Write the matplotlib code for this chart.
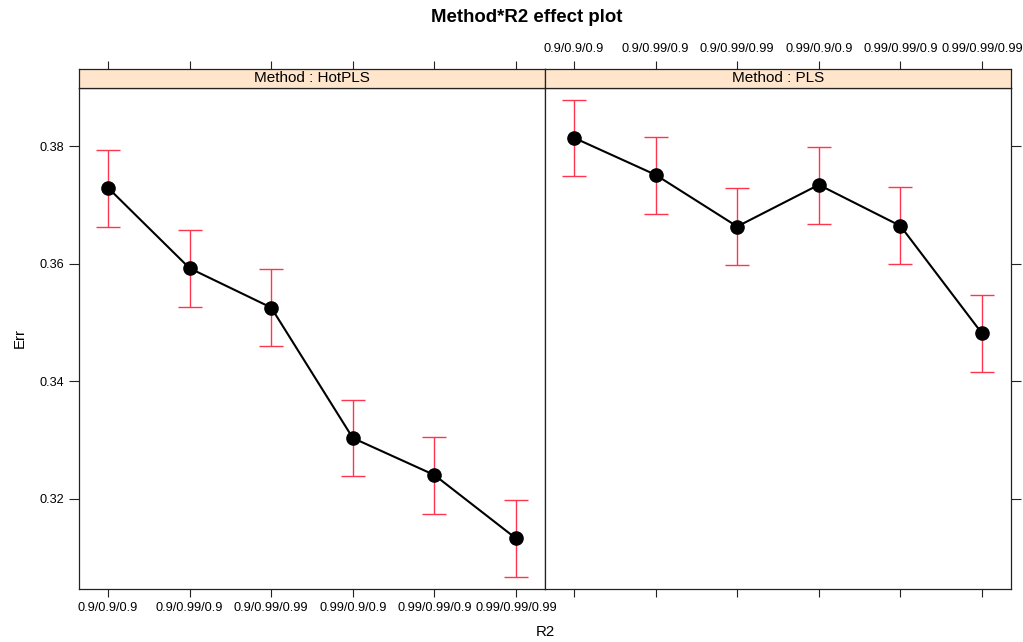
import matplotlib
matplotlib.use("Agg")
import matplotlib.pyplot as plt
import numpy as np

plt.rcParams['font.family'] = ['Liberation Sans', 'DejaVu Sans']

# Effect estimates of Err by R2 level, per method, with confidence limits
r2_levels = ["0.9/0.9/0.9", "0.9/0.99/0.9", "0.9/0.99/0.99",
             "0.99/0.9/0.9", "0.99/0.99/0.9", "0.99/0.99/0.99"]
methods = ["HotPLS", "PLS"]

hotpls_fit = [0.3729, 0.3592, 0.3525, 0.3303, 0.3240, 0.3132]
hotpls_lower = [0.3663, 0.3526, 0.3460, 0.3238, 0.3174, 0.3066]
hotpls_upper = [0.3794, 0.3657, 0.3590, 0.3368, 0.3305, 0.3197]

pls_fit = [0.3814, 0.3751, 0.3663, 0.3734, 0.3664, 0.3481]
pls_lower = [0.3749, 0.3685, 0.3597, 0.3668, 0.3599, 0.3415]
pls_upper = [0.3879, 0.3816, 0.3728, 0.3799, 0.3730, 0.3546]

y_ticks = [0.32, 0.34, 0.36, 0.38]

W, H = 1023, 642
fig = plt.figure(figsize=(W / 100, H / 100), dpi=100)

def px_box(x0, y0, x1, y1):
    # convert a pixel box (top-left origin) into figure fractions
    return [x0 / W, 1 - y1 / H, (x1 - x0) / W, (y1 - y0) / H]

x = np.arange(1, len(r2_levels) + 1)
xlim = (0.645, 6.355)
ylim = (0.3046, 0.38996)
frame_col = "#222222"
err_col = "#ff3550"
strip_col = "#ffe5cc"
tick_fs = 9.2

panels = [
    (methods[0], hotpls_fit, hotpls_lower, hotpls_upper, 79, 545),
    (methods[1], pls_fit, pls_lower, pls_upper, 545, 1011),
]

for i, (name, fit, lo, hi, x0, x1) in enumerate(panels):
    ax = fig.add_axes(px_box(x0, 87.5, x1, 589))
    fit = np.array(fit)
    lo = np.array(lo)
    hi = np.array(hi)
    ax.errorbar(x, fit, yerr=[fit - lo, hi - fit], fmt="none",
                ecolor=err_col, elinewidth=1.0, capsize=8.6, capthick=1.0,
                zorder=2)
    ax.plot(x, fit, color="black", lw=1.5, marker="o", markersize=9.5,
            markerfacecolor="black", markeredgecolor="black", zorder=3)
    ax.set_xlim(*xlim)
    ax.set_ylim(*ylim)
    for s in ax.spines.values():
        s.set_color(frame_col)
        s.set_linewidth(0.9)
    ax.set_xticks(x)
    ax.set_yticks(y_ticks)
    ax.tick_params(axis="x", direction="out", length=6, width=0.8,
                   color=frame_col, pad=3.5, labelsize=tick_fs,
                   top=False, bottom=True, labelbottom=(i == 0))
    if i == 0:
        ax.set_xticklabels(r2_levels)
        ax.tick_params(axis="y", direction="out", length=7.5, width=0.8,
                       color=frame_col, pad=3, labelsize=tick_fs,
                       left=True, right=False, labelleft=True)
        ax.set_yticklabels([f"{v:.2f}" for v in y_ticks])
    else:
        ax.tick_params(axis="y", direction="out", length=7.5, width=0.8,
                       color=frame_col, left=False, right=True,
                       labelleft=False, labelright=False)

    # strip with the panel's method name and the top tick marks
    sax = fig.add_axes(px_box(x0, 69, x1, 87.5))
    sax.set_facecolor(strip_col)
    sax.set_xlim(*xlim)
    sax.set_ylim(0, 1)
    sax.set_yticks([])
    sax.set_xticks(x)
    sax.tick_params(axis="x", direction="out", length=6, width=0.8,
                    color=frame_col, pad=4.0, labelsize=tick_fs,
                    top=True, bottom=False, labelbottom=False,
                    labeltop=(i == 1))
    if i == 1:
        sax.set_xticklabels(r2_levels)
    for s in sax.spines.values():
        s.set_color(frame_col)
        s.set_linewidth(0.9)
    sax.text(0.5, 0.5, f"Method : {name}", transform=sax.transAxes,
             ha="center", va="center", fontsize=11)

fig.text(527 / W, 1 - 17 / H, "Method*R2 effect plot", ha="center",
         va="center", fontsize=13.4, fontweight="bold")
fig.text(545 / W, 1 - 632 / H, "R2", ha="center", va="center", fontsize=10.8)
fig.text(20 / W, 1 - 338 / H, "Err", ha="center", va="center",
         rotation=90, fontsize=10.8)

fig.savefig("out.png", dpi=100)
